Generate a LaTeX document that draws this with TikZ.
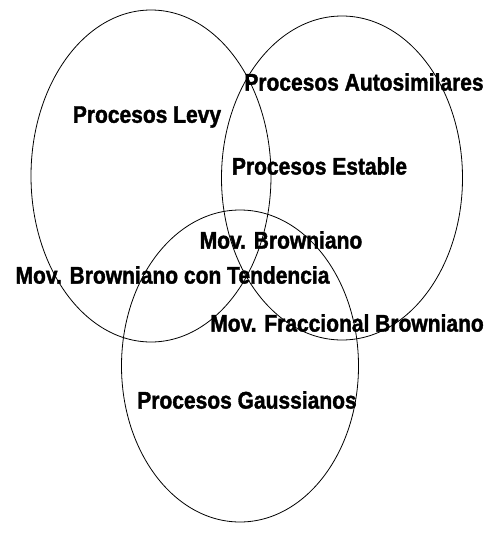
\documentclass[tikz,border=0pt]{standalone}
\usepackage{fontspec}
\setmainfont[FakeStretch=0.875,BoldFeatures={FakeBold=1.5}]{Liberation Sans}
\usetikzlibrary{shapes.geometric}
\begin{document}
\begin{tikzpicture}[x=1pt,y=-1pt,
  setring/.style={draw=black,line width=0.8pt,ellipse,inner sep=0pt},
  lbl/.style={font=\bfseries\fontsize{24}{28}\selectfont,inner sep=0pt,anchor=center}]
\useasboundingbox (0,0) rectangle (489,533);
\node[setring,minimum width=240pt,minimum height=332pt] (levy) at (151,176) {};
\node[setring,minimum width=241pt,minimum height=324pt] (auto) at (342,178) {};
\node[setring,minimum width=237pt,minimum height=312pt] (gauss) at (240,366) {};
\node[lbl] (tlevy) at (147,117) {Procesos Levy};
\node[lbl] (tauto) at (364,82) {Procesos Autosimilares};
\node[lbl] (testa) at (319.5,166) {Procesos Estable};
\node[lbl] (tbrow) at (281,240) {Mov. Browniano};
\node[lbl] (ttend) at (172.5,275) {Mov. Browniano con Tendencia};
\node[lbl] (tfrac) at (347,323) {Mov. Fraccional Browniano};
\node[lbl] (tgaus) at (247,400) {Procesos Gaussianos};
\end{tikzpicture}
\end{document}
